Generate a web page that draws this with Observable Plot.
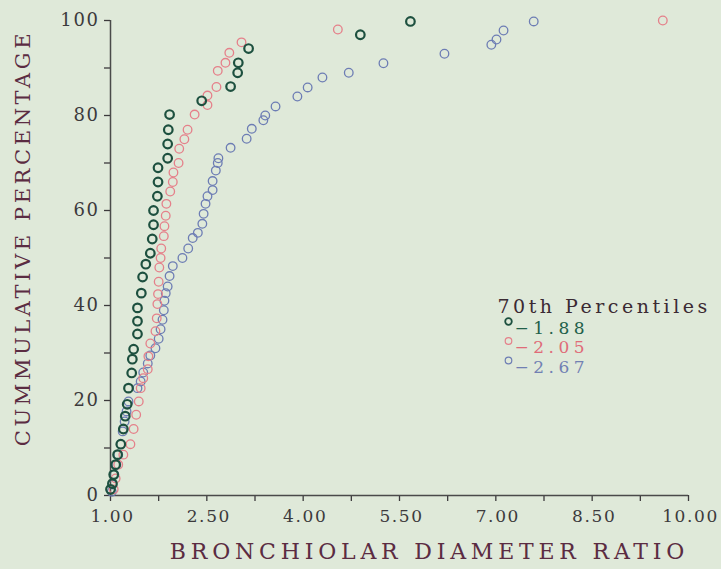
<!DOCTYPE html>
<html><head><meta charset="utf-8">
<script src="https://cdn.jsdelivr.net/npm/d3@7"></script>
<script src="https://cdn.jsdelivr.net/npm/@observablehq/plot@0.6"></script>
<style>
html,body{margin:0;padding:0;background:#dfe9d9;}
#chart svg{display:block;background:#dfe9d9;}
g[aria-label$="tick label"] text{letter-spacing:1.6px;}
</style>
</head><body>
<div id="chart"></div>
<script>
// ---- data ----
const greenX = [1.00,1.03,1.05,1.08,1.11,1.16,1.20,1.23,1.26,1.28,1.33,1.34,1.36,1.42,1.42,1.42,1.48,1.50,1.55,1.62,1.65,1.67,1.67,1.73,1.74,1.74,1.89,1.89,1.90,1.92,2.42,2.87,2.98,2.99,3.15,4.89,5.67];
const greenY = [1.3,2.5,4.4,6.5,8.6,10.8,14.0,16.7,19.2,22.6,25.8,28.7,30.8,34.0,36.7,39.5,42.6,46.0,48.7,51.0,54.0,57.0,60.0,63.0,66.0,69.0,71.0,74.0,77.0,80.2,83.1,86.1,89.0,91.1,94.1,97.0,99.8];

const redX = [1.05,1.08,1.12,1.20,1.31,1.36,1.40,1.44,1.47,1.51,1.58,1.59,1.62,1.70,1.72,1.73,1.74,1.75,1.76,1.78,1.79,1.83,1.84,1.86,1.87,1.93,1.97,1.98,2.06,2.07,2.15,2.20,2.31,2.51,2.51,2.65,2.67,2.79,2.85,3.04,4.54,9.60];
const redY = [1.3,3.6,6.5,8.6,10.8,14.0,17.0,19.8,22.6,24.7,26.6,29.3,32.0,34.6,37.3,40.3,42.4,45.0,48.0,50.0,52.0,54.6,56.7,58.9,61.4,64.0,66.0,68.0,70.0,73.0,75.0,77.0,80.2,82.2,84.2,86.0,89.4,91.1,93.2,95.4,98.1,100.0];

const blueX = [1.02,1.03,1.06,1.09,1.12,1.16,1.19,1.22,1.25,1.28,1.42,1.47,1.51,1.58,1.62,1.70,1.75,1.78,1.81,1.83,1.84,1.86,1.89,1.92,1.97,2.12,2.21,2.28,2.36,2.43,2.45,2.48,2.51,2.59,2.59,2.64,2.67,2.68,2.87,3.12,3.20,3.38,3.41,3.57,3.91,4.07,4.30,4.71,5.25,6.20,6.93,7.01,7.12,7.59];
const blueY = [0.8,2.3,4.4,6.5,8.6,10.8,13.5,15.6,17.7,19.8,22.6,24.0,25.9,27.8,29.5,31.0,33.0,35.0,37.0,39.0,41.0,42.6,44.0,46.2,48.3,50.0,52.0,54.2,55.3,57.2,59.3,61.4,63.0,64.3,66.2,68.4,70.0,71.0,73.2,75.1,77.2,79.0,80.0,81.9,84.0,85.9,88.0,89.0,91.0,93.0,94.9,96.0,97.9,99.8];

const xTicks = [1.00,1.75,2.50,3.25,4.00,4.75,5.50,6.25,7.00,7.75,8.50,9.25,10.00];
const xTickLabels = [1.00,2.50,4.00,5.50,7.00,8.50,10.00];
const yTicks = [0,10,20,30,40,50,60,70,80,90,100];
const yTickLabels = [0,20,40,60,80,100];

const yTitle = "CUMMULATIVE PERCENTAGE";
const xTitle = "BRONCHIOLAR DIAMETER RATIO";
const legendTitle = "70th Percentiles";
const legendLabels = ["−1.88","−2.05","−2.67"];
const seriesColors = ["#1d503f","#e5808a","#6d7db4"];
const legendTextColors = ["#22604a","#e06b78","#7180b3"];

// ---- build tables ----
const toRows = (xs, ys) => xs.map((x, i) => ({x, y: ys[i]}));
const green = toRows(greenX, greenY);
const red = toRows(redX, redY);
const blue = toRows(blueX, blueY);

const font = "'DejaVu Serif', serif";

const legendMarks = [];
legendLabels.forEach((lab, i) => {
  legendMarks.push(Plot.dot([lab], {frameAnchor: "top-left", dx: 398, dy: 301 + i * 19.5, r: 3.3, stroke: seriesColors[i], strokeWidth: i === 0 ? 1.8 : 1.2}));
  legendMarks.push(Plot.text([lab], {frameAnchor: "top-left", dx: 404, dy: 301 + i * 19.5, text: d => d, textAnchor: "start", fill: legendTextColors[i], fontSize: 17}));
});

const chart = Plot.plot({
  width: 721,
  height: 569,
  marginLeft: 110,
  marginRight: 33,
  marginTop: 20,
  marginBottom: 74,
  style: {fontFamily: font, background: "#dfe9d9", overflow: "visible"},
  x: {domain: [1, 10]},
  y: {domain: [0, 100]},
  marks: [
    Plot.axisX(xTicks, {tickSize: 6, fontSize: 17, color: "#3c3a3c", strokeWidth: 1.3, tickFormat: () => "", label: null}),
    Plot.axisX(xTickLabels, {tickSize: 0, tickPadding: 14, dx: 2, fontSize: 17, color: "#3c3a3c",
      tickFormat: d => d.toFixed(2), label: null}),
    Plot.axisY(yTicks, {tickSize: 6, tickPadding: 5, fontSize: 18, color: "#3c3a3c", strokeWidth: 1.3,
      tickFormat: d => yTickLabels.includes(d) ? String(d) : "", label: null}),
    Plot.ruleY([0], {x1: 1, x2: 10, stroke: "#4a4a4a", strokeWidth: 1.5}),
    Plot.ruleX([1], {y1: 0, y2: 100, stroke: "#4a4a4a", strokeWidth: 1.5}),
    Plot.dot(blue, {x: "x", y: "y", r: 4.3, stroke: seriesColors[2], strokeWidth: 1.3}),
    Plot.dot(red, {x: "x", y: "y", r: 4.3, stroke: seriesColors[1], strokeWidth: 1.3}),
    Plot.dot(green, {x: "x", y: "y", r: 4.3, stroke: seriesColors[0], strokeWidth: 2.2}),
    Plot.text([yTitle], {frameAnchor: "left", textAnchor: "middle", lineAnchor: "middle", rotate: -90, dx: -87, dy: -20, text: d => d, fontSize: 21, fill: "#5b2c42"}),
    Plot.text([xTitle], {frameAnchor: "bottom", textAnchor: "middle", lineAnchor: "middle", dx: 30, dy: 56, text: d => d, fontSize: 22, fill: "#5b2c42"}),
    Plot.text([legendTitle], {frameAnchor: "top-left", dx: 387, dy: 279, text: d => d, textAnchor: "start", fontSize: 19, fill: "#3b2a33"}),
    ...legendMarks
  ]
});
document.getElementById("chart").appendChild(chart);

// letter spacing for the typewriter-like lettering of the original
const spacing = new Map([[yTitle, 3.6], [xTitle, 4.8], [legendTitle, 3.5]]);
legendLabels.forEach(l => spacing.set(l, 4.5));
d3.select(chart).selectAll("text").each(function() {
  const t = this.textContent;
  if (spacing.has(t)) this.style.letterSpacing = spacing.get(t) + "px";
});
</script>
</body></html>
